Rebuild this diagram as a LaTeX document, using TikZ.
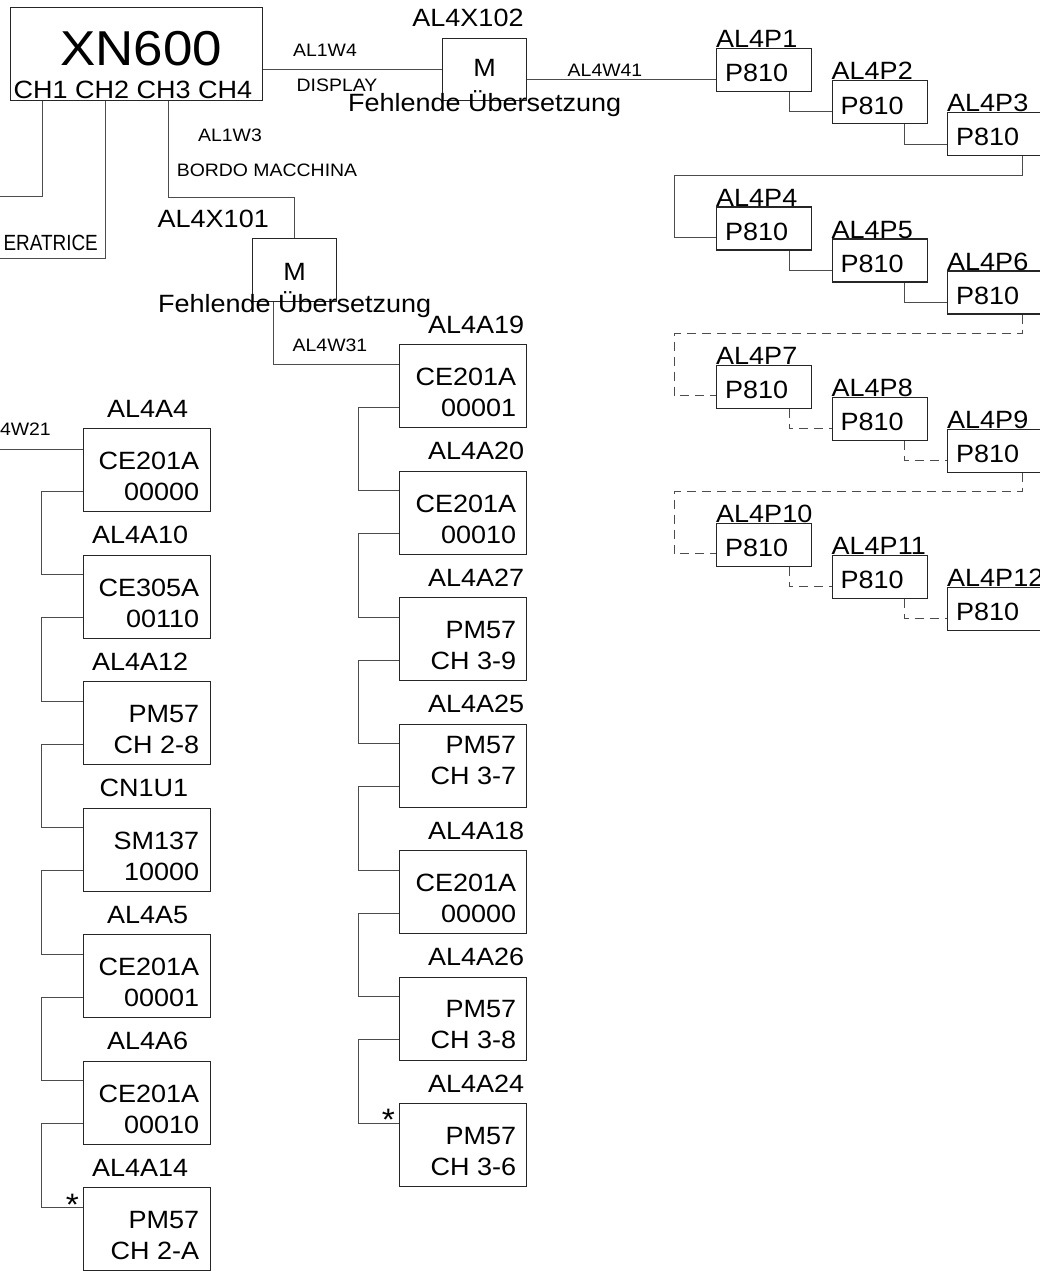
\documentclass[tikz,border=0pt]{standalone}
\usepackage{fontspec}
\setmainfont{Liberation Sans}[FakeStretch=1.08]
\newfontfamily{\narrowfam}{Liberation Sans}[FakeStretch=0.86]
\usetikzlibrary{calc}

\newcommand{\xnfont}{\fontsize{49}{55}\selectfont}
\newcommand{\txtfont}{\fontsize{25}{31}\selectfont}
\newcommand{\wirefont}{\fontsize{18}{21}\selectfont}
\newcommand{\starfont}{\fontsize{31}{31}\selectfont}

\tikzset{
  wire/.style={draw=black!70, line width=1pt},
  dwire/.style={wire, dash pattern=on 9pt off 6pt},
  unit/.style={draw=black!85, line width=1.3pt, inner sep=0pt, anchor=north west},
  abox/.style={unit, minimum width=127pt, minimum height=83pt},
  pbox/.style={unit, minimum width=95pt, minimum height=43pt},
  mbox/.style={unit, minimum width=84pt, minimum height=63pt},
  txt/.style={inner sep=0pt, font=\txtfont},
  wtxt/.style={inner sep=0pt, font=\wirefont},
  star/.style={inner sep=0pt, font=\starfont, anchor=base east},
}

\begin{document}
\begin{tikzpicture}[x=1pt, y=-1pt]
  \useasboundingbox (0,0) rectangle (1040,1271);

  % main unit
  \node[unit, minimum width=252pt, minimum height=93pt] (xn) at (10,7) {};
  \node[txt, font=\xnfont] at (141,49) {XN600};
  \node[txt] at (133,90) {CH1 CH2 CH3 CH4};

  % junction boxes
  \node[mbox, minimum height=62pt] (x102) at (442,38) {};
  \node[txt] at ($(x102.north)+(0,30)$) {M};
  \node[txt, anchor=base] at ($(x102.south)+(0,10)$) {Fehlende Übersetzung};
  \node[txt] at (468,18) {AL4X102};

  \node[mbox] (x101) at (252,238) {};
  \node[txt] at ($(x101.north)+(0,34)$) {M};
  \node[txt, anchor=base] at ($(x101.south)+(0,10)$) {Fehlende Übersetzung};
  \node[txt, anchor=base east] at (269,227) {AL4X101};

  % cables from XN600
  \draw[wire] (x102.west) -- (x102.west -| xn.east);
  \node[wtxt] at (325,50) {AL1W4};
  \node[wtxt] at (337,85) {DISPLAY};

  \draw[wire] ($(xn.south west)+(32,0)$) |- (-5,196);
  \draw[wire] ($(xn.south west)+(95,0)$) |- (-5,258);
  \node[inner sep=0pt, font=\narrowfam\fontsize{22}{26}\selectfont, anchor=base east] at (98,250) {ERATRICE};

  \draw[wire] ($(xn.south west)+(158,0)$) -- ++(0,96) -| (x101.north);
  \node[wtxt] at (230,135) {AL1W3};
  \node[wtxt] at (267,170) {BORDO MACCHINA};

  % left column
  \foreach \i/\nm/\lab/\ta/\tb in {0/a4/AL4A4/CE201A/00000, 1/a10/AL4A10/CE305A/00110,
      2/a12/AL4A12/PM57/CH 2-8, 3/cn1/CN1U1/SM137/10000, 4/a5/AL4A5/CE201A/00001,
      5/a6/AL4A6/CE201A/00010, 6/a14/AL4A14/PM57/CH 2-A} {
    \node[abox] (\nm) at (83,{428+126.5*\i}) {};
    \node[txt, anchor=base east] at ($(\nm.north east)+(-23,-11)$) {\lab};
    \node[txt, anchor=north east, align=right] at ($(\nm.north east)+(-12,24)$) {\ta\\\tb};
  }
  \foreach \a/\b in {a4/a10, a10/a12, a12/cn1, cn1/a5, a5/a6, a6/a14}
    \draw[wire] ($(\a.north west)+(0,63)$) -- ++(-42,0) |- ($(\b.north west)+(0,20)$);
  \draw[wire] (-5,449) -- ($(a4.north west)+(0,21)$);
  \node[wtxt, anchor=base east] at (51,435) {AL4W21};
  \node[star] at ($(a14.north west)+(-4,28)$) {*};

  % right column
  \foreach \i/\nm/\lab/\ta/\tb/\dy in {0/a19/AL4A19/CE201A/00001/0, 1/a20/AL4A20/CE201A/00010/0,
      2/a27/AL4A27/PM57/CH 3-9/0, 3/a25/AL4A25/PM57/CH 3-7/-11, 4/a18/AL4A18/CE201A/00000/0,
      5/a26/AL4A26/PM57/CH 3-8/0, 6/a24/AL4A24/PM57/CH 3-6/0} {
    \node[abox] (\nm) at (399,{344+126.5*\i}) {};
    \node[txt, anchor=base east] at ($(\nm.north east)+(-3,-11)$) {\lab};
    \node[txt, anchor=north east, align=right] at ($(\nm.north east)+(-11,{24+\dy})$) {\ta\\\tb};
  }
  \foreach \a/\b in {a19/a20, a20/a27, a27/a25, a25/a18, a18/a26, a26/a24}
    \draw[wire] ($(\a.north west)+(0,63)$) -- ++(-41,0) |- ($(\b.north west)+(0,20)$);
  \draw[wire] ($(x101.south)+(-21,0)$) |- ($(a19.north west)+(0,20)$);
  \node[wtxt] at (330,345) {AL4W31};
  \node[star] at ($(a24.north west)+(-4,27)$) {*};

  % displays
  \foreach \r in {0,...,3}
    \foreach \c in {0,1,2} {
      \pgfmathtruncatemacro{\n}{3*\r+\c+1}
      \node[pbox] (p\n) at ({716+115.5*\c},{48+158.3*\r+32*\c}) {};
      \node[txt, anchor=base west] at (p\n.north west) {AL4P\n};
      \node[txt, anchor=base west] at ($(p\n.north west)+(9,34)$) {P810};
    }
  \draw[wire] ($(x102.north east)+(0,42)$) -- ($(p1.north west)+(0,32)$);
  \node[wtxt] at (605,70) {AL4W41};
  \foreach \a/\b/\s in {1/2/wire, 2/3/wire, 4/5/wire, 5/6/wire,
      7/8/dwire, 8/9/dwire, 10/11/dwire, 11/12/dwire}
    \draw[\s] ($(p\a.south west)+(73,0)$) |- ($(p\b.north west)+(0,32)$);
  \foreach \a/\b/\s in {3/4/wire, 6/7/dwire, 9/10/dwire}
    \draw[\s] ($(p\a.south west)+(75,0)$) -- ++(0,19) -| ($(p\b.north west)+(-42,31)$)
      -- ($(p\b.north west)+(0,31)$);
\end{tikzpicture}
\end{document}
